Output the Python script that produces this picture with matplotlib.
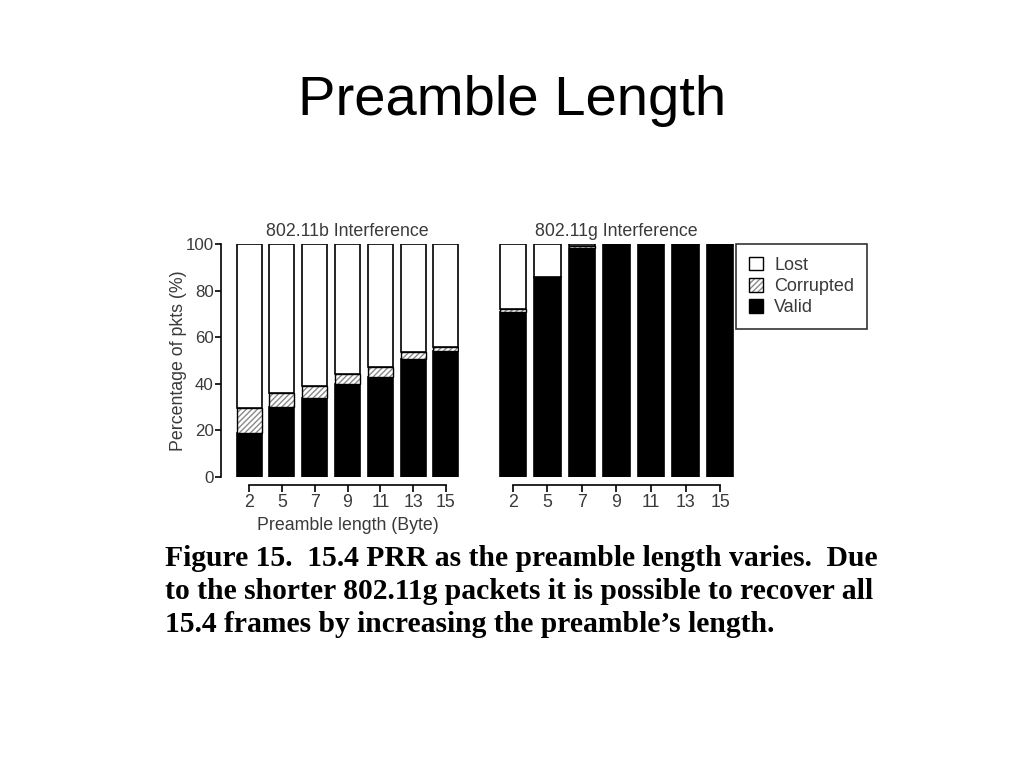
"""
Slide: Preamble Length - stacked PRR bars for 802.11b / 802.11g interference
"""
import matplotlib
matplotlib.use("Agg")
from matplotlib import pyplot as plt
from matplotlib.patches import Patch

preamble = ["2", "5", "7", "9", "11", "13", "15"]

# 802.11b interference (%)
b_valid = [19, 30, 34, 40, 43, 50.5, 54]
b_corrupted = [10.5, 6, 5, 4, 4, 3, 2]

# 802.11g interference (%)
g_valid = [71, 86, 98.3, 100, 100, 100, 100]
g_corrupted = [1, 0, 0.7, 0, 0, 0, 0]

BAR_WIDTH = 0.76
TEXT_GRAY = "#3a3a3a"
HATCH_GRAY = "#8a8a8a"
FS = 12.8

plt.rcParams["font.family"] = ["Liberation Sans", "DejaVu Sans"]
plt.rcParams["hatch.linewidth"] = 1.0

fig = plt.figure(figsize=(10.24, 7.68), dpi=100)


def stacked(ax, valid, corrupted):
    """Draw valid / corrupted / lost stacks for one panel"""
    x = range(len(valid))
    lost = [100 - v - c for v, c in zip(valid, corrupted)]
    top = [v + c for v, c in zip(valid, corrupted)]
    ax.bar(x, valid, BAR_WIDTH, color="black", edgecolor="black", linewidth=1.2)
    # hatch drawn in gray, outline added on top in black
    ax.bar(x, corrupted, BAR_WIDTH, bottom=valid, color="white",
           edgecolor=HATCH_GRAY, hatch="//////", linewidth=0)
    ax.bar(x, corrupted, BAR_WIDTH, bottom=valid, fill=False,
           edgecolor="black", linewidth=1.0)
    ax.bar(x, lost, BAR_WIDTH, bottom=top, color="white", edgecolor="black", linewidth=1.2)

    ax.set_xlim(-BAR_WIDTH / 2 - 0.02, len(valid) - 1 + BAR_WIDTH / 2 + 0.02)
    ax.set_ylim(0, 100)
    ax.set_xticks(list(x))
    ax.set_xticklabels(preamble)
    for s in ("top", "right"):
        ax.spines[s].set_visible(False)
    ax.spines["bottom"].set_position(("outward", 6))
    ax.spines["bottom"].set_bounds(0, len(valid) - 1)
    ax.tick_params(axis="x", direction="out", length=5, width=1.2,
                   labelsize=FS, labelcolor=TEXT_GRAY, pad=1.5)
    ax.spines["bottom"].set_linewidth(1.2)


ax1 = fig.add_axes([0.2305, 0.3789, 0.2178, 0.3034])
stacked(ax1, b_valid, b_corrupted)
ax1.spines["left"].set_position(("outward", 11))
ax1.spines["left"].set_bounds(0, 100)
ax1.spines["left"].set_linewidth(1.2)
ax1.set_yticks([0, 20, 40, 60, 80, 100])
ax1.tick_params(axis="y", direction="out", length=4, width=1.2,
                labelsize=12.2, labelcolor=TEXT_GRAY, pad=1)
ax1.set_ylabel("Percentage of pkts (%)", fontsize=FS, color=TEXT_GRAY, labelpad=-1)
ax1.set_xlabel("Preamble length (Byte)", fontsize=FS, color=TEXT_GRAY, labelpad=4)
ax1.set_title("802.11b Interference", fontsize=FS, color=TEXT_GRAY, pad=6)

ax2 = fig.add_axes([0.4873, 0.3789, 0.2295, 0.3034])
stacked(ax2, g_valid, g_corrupted)
ax2.spines["left"].set_visible(False)
ax2.set_yticks([])
ax2.set_title("802.11g Interference", fontsize=FS, color=TEXT_GRAY, pad=6)

handles = [
    Patch(facecolor="white", edgecolor="black", linewidth=1),
    (Patch(facecolor="white", edgecolor=HATCH_GRAY, hatch="//////", linewidth=0),
     Patch(fill=False, edgecolor="black", linewidth=1)),
    Patch(facecolor="black", edgecolor="black", linewidth=1),
]
leg = ax2.legend(handles, ["Lost", "Corrupted", "Valid"], loc="upper left",
                 bbox_to_anchor=(1.01, 1.0), fontsize=13, frameon=True, fancybox=False,
                 handlelength=0.8, handleheight=0.8, handletextpad=0.6,
                 labelspacing=0.22, borderpad=0.7, borderaxespad=0)
leg.get_frame().set_edgecolor("black")
leg.get_frame().set_linewidth(1.2)
for t in leg.get_texts():
    t.set_color(TEXT_GRAY)

fig.text(0.5, 0.868, "Preamble Length", ha="center", va="center",
         fontsize=40.5, color="black", family=["Liberation Sans", "DejaVu Sans"])

caption = [
    "Figure 15.  15.4 PRR as the preamble length varies.  Due",
    "to the shorter 802.11g packets it is possible to recover all",
    "15.4 frames by increasing the preamble\u2019s length.",
]
for i, line in enumerate(caption):
    fig.text(0.161, 0.273 - i * 0.043, line, ha="left", va="center",
             fontsize=21.3, fontweight="bold", color="black",
             family=["Liberation Serif", "DejaVu Serif"])

fig.savefig("out.png", dpi=100, facecolor="white")
